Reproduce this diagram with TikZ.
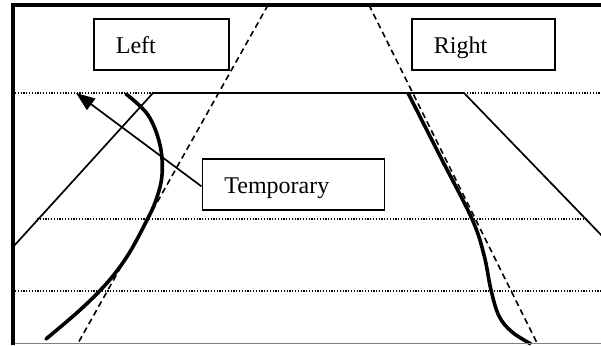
\documentclass[tikz,border=0pt]{standalone}
\usepackage{fontspec}
\setmainfont{Liberation Serif}
\usetikzlibrary{arrows.meta}
\begin{document}
\begin{tikzpicture}[x=1pt,y=-1pt,
  labelbox/.style={draw, line width=1.8pt, anchor=north west, inner xsep=22pt, inner ysep=10pt,
    text height=24.5pt, text depth=6.5pt, align=left,
    font=\fontsize{24}{28}\selectfont},
  thinline/.style={line width=1.7pt},
  guide/.style={line width=1.2pt, dash pattern=on 1.2pt off 1.6pt},
  dashline/.style={line width=1.6pt, dash pattern=on 6pt off 4pt},
  thickcurve/.style={line width=3.6pt}]
\useasboundingbox (0,0) rectangle (601,345);

% frame
\begin{scope}
\clip (13,5) rectangle (601,345);
% horizontal guides
\draw[guide] (15,93) -- (153,93);
\draw[guide] (464,93) -- (601,93);
\draw[guide] (37,219) -- (586,219);
\draw[guide] (15,291) -- (601,291);
% trapezoid
\draw[thinline] (13,247) -- (153,93) -- (464,93) -- (606,240);
% dashed lines
\draw[dashline] (268,5) -- (77,345);
\draw[dashline] (369,5) -- (537,343);
% curves
\draw[thickcurve, line cap=round] plot[smooth, tension=0.6] coordinates
  {(126,94) (148,115) (160,145) (162,175) (156,200) (146,222) (128,255) (107,283) (80,310) (46,339)};
\draw[thickcurve] plot[smooth, tension=0.6] coordinates
  {(408,93) (440,156) (472,219) (484,255) (491,290) (499,316) (512,332) (531,344)};
\end{scope}
\draw[line width=0.8pt, gray] (13,343.5) -- (601,343.5);
\draw[line width=3.6pt] (13,5) -- (601,5);
\draw[line width=3.6pt] (13,3.2) -- (13,345);

% labels
\node[labelbox, text width=91pt] (left) at (93,18) {Left};
\node[labelbox, text width=99pt] (right) at (411,18) {Right};
\node[labelbox, text width=138pt] (temp) at (201.5,158) {Temporary};

% arrow
\coordinate (tip) at (76,93);
\draw[thinline, -{Triangle[length=19pt,width=14pt]}] ([yshift=-2pt]temp.west) -- (tip);
\end{tikzpicture}
\end{document}
